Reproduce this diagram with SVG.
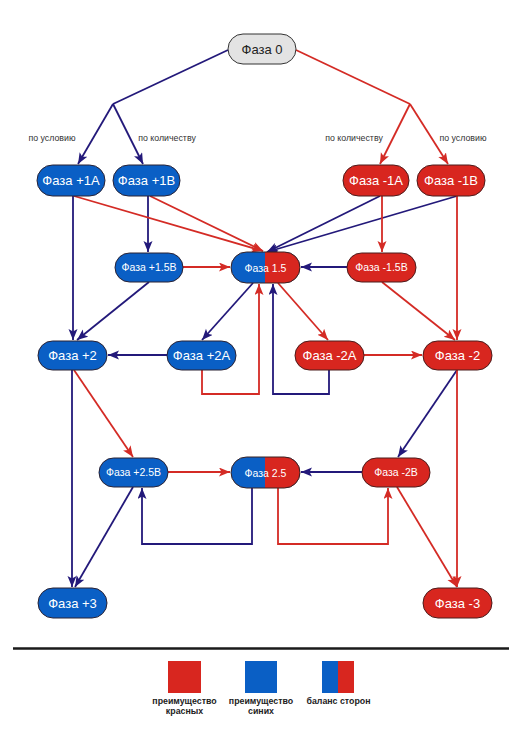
<svg xmlns="http://www.w3.org/2000/svg" width="530" height="750" viewBox="0 0 530 750">
<style>
.blue{fill:#0a5fc5;stroke:#2a2233;stroke-width:1}
.red{fill:#d8261f;stroke:#4a1c1c;stroke-width:1}
.grey{fill:#e3e3e3;stroke:#333;stroke-width:1}
.t{font-family:"Liberation Sans",Arial,sans-serif;fill:#fff;text-anchor:middle}
.big{font-size:13px}
.sm{font-size:10.5px}
.n{fill:none;stroke:#23197a;stroke-width:1.8}
.r{fill:none;stroke:#d42b25;stroke-width:1.8}
.lbl{font-family:"Liberation Sans",Arial,sans-serif;font-size:8.8px;fill:#333;text-anchor:middle}
.leg{font-family:"Liberation Sans",Arial,sans-serif;font-size:8.8px;font-weight:bold;fill:#222;text-anchor:middle}
</style>
<defs>
<marker id="an" markerUnits="userSpaceOnUse" markerWidth="12" markerHeight="10" refX="11" refY="4.5" orient="auto"><path d="M0,0 L11,4.5 L0,9 L2.5,4.5 z" fill="#23197a"/></marker>
<marker id="ar" markerUnits="userSpaceOnUse" markerWidth="12" markerHeight="10" refX="11" refY="4.5" orient="auto"><path d="M0,0 L11,4.5 L0,9 L2.5,4.5 z" fill="#d42b25"/></marker>
<clipPath id="rh"><rect x="265" y="0" width="100" height="750"/></clipPath>
</defs>
<rect width="530" height="750" fill="#fff"/>
<g id="connectors">
<!-- navy -->
<path class="n" d="M228,50 L113,104"/>
<path class="n" d="M113,104 L78,164" marker-end="url(#an)"/>
<path class="n" d="M113,104 L143,164" marker-end="url(#an)"/>
<path class="n" d="M73,196 L73,340" marker-end="url(#an)"/>
<path class="n" d="M148,196 L148,252" marker-end="url(#an)"/>
<path class="n" d="M149,282 L77,340" marker-end="url(#an)"/>
<path class="n" d="M253,283 L202,340" marker-end="url(#an)"/>
<path class="n" d="M167,355 L108,355" marker-end="url(#an)"/>
<path class="n" d="M380,196 L267,252" marker-end="url(#an)"/>
<path class="n" d="M457,196 L267,252" marker-end="url(#an)"/>
<path class="n" d="M347,267 L301,267" marker-end="url(#an)"/>
<path class="n" d="M329,370 L329,394 L273,394 L273,284" marker-end="url(#an)"/>
<path class="n" d="M457,370 L398,457" marker-end="url(#an)"/>
<path class="n" d="M362,472 L301,472" marker-end="url(#an)"/>
<path class="n" d="M252,488 L252,544 L142,544 L142,488" marker-end="url(#an)"/>
<path class="n" d="M133,487 L75,587" marker-end="url(#an)"/>
<path class="n" d="M72,370 L72,587" marker-end="url(#an)"/>
<!-- red -->
<path class="r" d="M296,50 L410,104"/>
<path class="r" d="M410,104 L380,164" marker-end="url(#ar)"/>
<path class="r" d="M410,104 L448,164" marker-end="url(#ar)"/>
<path class="r" d="M74,196 L263,251" marker-end="url(#ar)"/>
<path class="r" d="M150,196 L263,251" marker-end="url(#ar)"/>
<path class="r" d="M382,196 L382,252" marker-end="url(#ar)"/>
<path class="r" d="M457,196 L457,340" marker-end="url(#ar)"/>
<path class="r" d="M382,282 L455,340" marker-end="url(#ar)"/>
<path class="r" d="M183,267 L230,267" marker-end="url(#ar)"/>
<path class="r" d="M278,283 L328,340" marker-end="url(#ar)"/>
<path class="r" d="M364,355 L422,355" marker-end="url(#ar)"/>
<path class="r" d="M202,370 L202,394 L259,394 L259,284" marker-end="url(#ar)"/>
<path class="r" d="M74,370 L133,457" marker-end="url(#ar)"/>
<path class="r" d="M168,472 L230,472" marker-end="url(#ar)"/>
<path class="r" d="M278,488 L278,544 L388,544 L388,488" marker-end="url(#ar)"/>
<path class="r" d="M397,487 L457,587" marker-end="url(#ar)"/>
<path class="r" d="M457,370 L457,587" marker-end="url(#ar)"/>
</g>
<g id="labels">
<text class="lbl" x="52" y="141">по условию</text>
<text class="lbl" x="167" y="141">по количеству</text>
<text class="lbl" x="354" y="141">по количеству</text>
<text class="lbl" x="463" y="141">по условию</text>
</g>
<g id="p0"><rect class="grey" x="228" y="34" width="68" height="30" rx="15"/><text class="t big" x="262" y="54" style="fill:#222">Фаза 0</text></g>
<g id="p1A"><rect class="blue" x="37" y="165" width="68" height="31" rx="15.5"/><text class="t big" x="71" y="185">Фаза +1A</text></g>
<g id="p1B"><rect class="blue" x="113" y="165" width="67" height="31" rx="15.5"/><text class="t big" x="146.5" y="185">Фаза +1B</text></g>
<g id="m1A"><rect class="red" x="343" y="165" width="66" height="31" rx="15.5"/><text class="t big" x="376" y="185">Фаза -1A</text></g>
<g id="m1B"><rect class="red" x="417" y="165" width="68" height="31" rx="15.5"/><text class="t big" x="451" y="185">Фаза -1B</text></g>
<g id="p15B"><rect class="blue" x="115" y="253" width="68" height="29" rx="14.5"/><text class="t sm" x="149" y="271">Фаза +1.5B</text></g>
<g id="c15"><rect x="231" y="252" width="69" height="31" rx="15.5" fill="#0a5fc5"/><rect x="231" y="252" width="69" height="31" rx="15.5" fill="#d8261f" clip-path="url(#rh)"/><rect x="231" y="252" width="69" height="31" rx="15.5" fill="none" stroke="#3a2222" stroke-width="1"/><text class="t sm" x="265.5" y="271.5">Фаза 1.5</text></g>
<g id="m15B"><rect class="red" x="347" y="253" width="69" height="29" rx="14.5"/><text class="t sm" x="381.5" y="271">Фаза -1.5B</text></g>
<g id="p2"><rect class="blue" x="38" y="341" width="69" height="29" rx="14.5"/><text class="t big" x="72.5" y="360">Фаза +2</text></g>
<g id="p2A"><rect class="blue" x="167" y="341" width="69" height="29" rx="14.5"/><text class="t big" x="201.5" y="360">Фаза +2A</text></g>
<g id="m2A"><rect class="red" x="295" y="341" width="69" height="29" rx="14.5"/><text class="t big" x="329.5" y="360">Фаза -2A</text></g>
<g id="m2"><rect class="red" x="423" y="341" width="69" height="29" rx="14.5"/><text class="t big" x="457.5" y="360">Фаза -2</text></g>
<g id="p25B"><rect class="blue" x="99" y="458" width="69" height="29" rx="14.5"/><text class="t sm" x="133.5" y="476">Фаза +2.5B</text></g>
<g id="c25"><rect x="231" y="457" width="69" height="31" rx="15.5" fill="#0a5fc5"/><rect x="231" y="457" width="69" height="31" rx="15.5" fill="#d8261f" clip-path="url(#rh)"/><rect x="231" y="457" width="69" height="31" rx="15.5" fill="none" stroke="#3a2222" stroke-width="1"/><text class="t sm" x="265.5" y="476.5">Фаза 2.5</text></g>
<g id="m2B"><rect class="red" x="362" y="458" width="68" height="29" rx="14.5"/><text class="t sm" x="396" y="476">Фаза -2B</text></g>
<g id="p3"><rect class="blue" x="38" y="588" width="69" height="30" rx="15"/><text class="t big" x="72.5" y="608">Фаза +3</text></g>
<g id="m3"><rect class="red" x="423" y="588" width="69" height="30" rx="15"/><text class="t big" x="457.5" y="608">Фаза -3</text></g>
<g id="legend">
<line x1="13" y1="648.5" x2="509" y2="648.5" stroke="#1a1a1a" stroke-width="2.5"/>
<rect x="168" y="661" width="33" height="32" fill="#d8261f"/>
<rect x="245" y="661" width="32" height="32" fill="#0a5fc5"/>
<rect x="322" y="661" width="16" height="32" fill="#0a5fc5"/>
<rect x="338" y="661" width="16" height="32" fill="#d8261f"/>
<text class="leg" x="184.5" y="704">преимущество</text>
<text class="leg" x="184.5" y="714">красных</text>
<text class="leg" x="261" y="704">преимущество</text>
<text class="leg" x="261" y="714">синих</text>
<text class="leg" x="338.5" y="704">баланс сторон</text>
</g>
</svg>
